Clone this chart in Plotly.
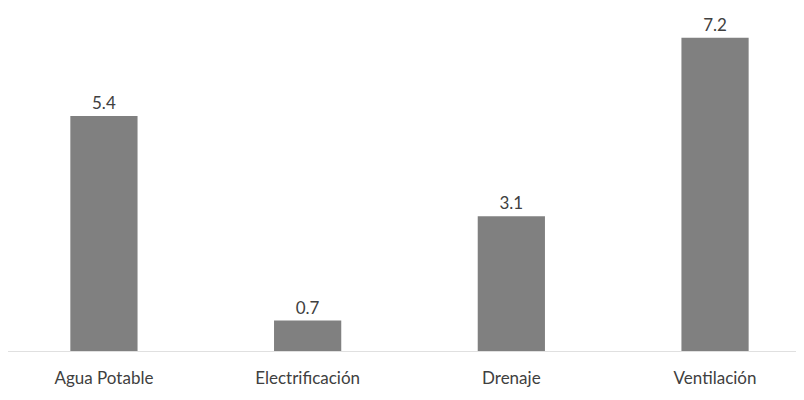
import plotly.graph_objects as go

categories = ["Agua Potable", "Electrificación", "Drenaje", "Ventilación"]
values = [5.4, 0.7, 3.1, 7.2]
labels = ["5.4", "0.7", "3.1", "7.2"]

font_family = "Lato, Open Sans, sans-serif"

fig = go.Figure(go.Bar(
    x=categories, y=values, text=labels, textposition="outside",
    marker=dict(color="#808080", line=dict(width=0)),
    width=0.33, cliponaxis=False,
    textfont=dict(size=17, color="#404040", family=font_family),
))

fig.update_layout(
    width=804, height=400,
    margin=dict(l=0, r=0, t=0, b=57),
    paper_bgcolor="white", plot_bgcolor="white",
    showlegend=False,
    xaxis=dict(range=[-0.471, 3.476], showgrid=False, showline=True,
               linecolor="#e0e0e0", linewidth=1, ticks="outside", ticklen=12,
               tickcolor="rgba(0,0,0,0)",
               tickfont=dict(size=17, color="#404040", family=font_family)),
    yaxis=dict(range=[0, 7.885], visible=False),
)

fig.write_html("out.html")
